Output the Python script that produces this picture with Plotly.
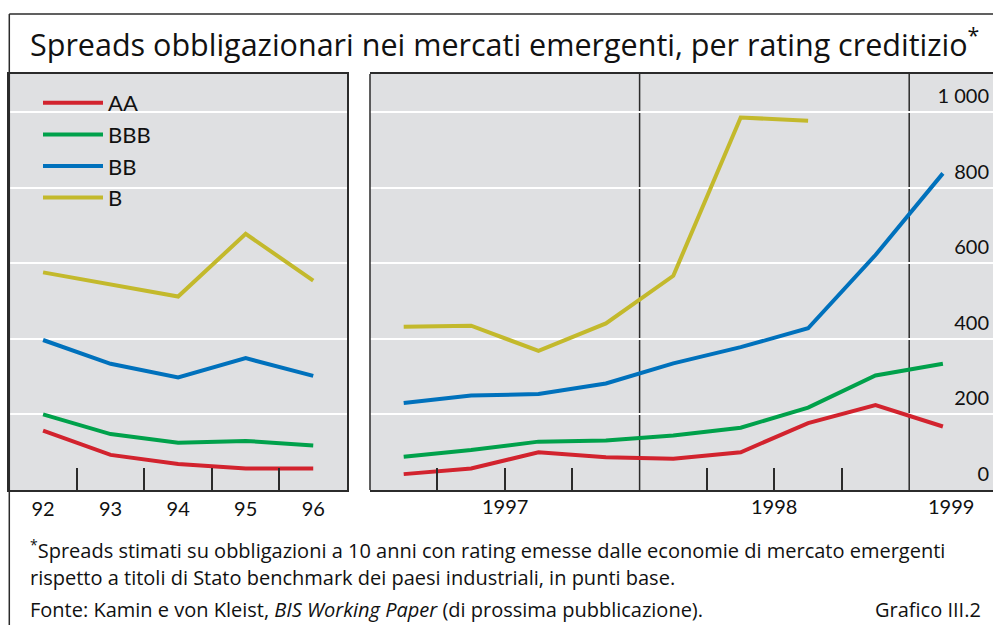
import plotly.graph_objects as go

# ---------------- data ----------------
ANNUAL_YEARS = [92, 93, 94, 95, 96]
AA_ANNUAL = [157, 93, 69, 57, 57]
BBB_ANNUAL = [200, 148, 125, 130, 118]
BB_ANNUAL = [397, 334, 298, 349, 302]
B_ANNUAL = [576, 545, 512, 678, 554]

QUARTER_YEARS = [1997, 1997, 1997, 1997, 1998, 1998, 1998, 1998, 1999]
QUARTER_NUMS = [1, 2, 3, 4, 1, 2, 3, 4, 1]
AA_Q = [42, 57, 100, 87, 83, 100, 177, 225, 168]
BBB_Q = [88, 106, 128, 131, 144, 165, 218, 303, 334]
BB_Q = [230, 250, 254, 282, 335, 378, 428, 622, 838]
B_Q = [432, 435, 368, 441, 567, 986, 977, None, None]

SERIES_NAMES = ["AA", "BBB", "BB", "B"]
COLORS = ["#d2232e", "#00a14b", "#0071bc", "#c3b92c"]

Y_TICKS = [0, 200, 400, 600, 800, 1000]
Y_TICKTEXT = ["0", "200", "400", "600", "800", "1 000"]
YEAR_LABELS = ["1997", "1998", "1999"]

TITLE = "Spreads obbligazionari nei mercati emergenti, per rating creditizio<sup>*</sup>"
NOTE1 = "<sup>*</sup>Spreads stimati su obbligazioni a 10 anni con rating emesse dalle economie di mercato emergenti"
NOTE2 = "rispetto a titoli di Stato benchmark dei paesi industriali, in punti base."
NOTE3 = "Fonte: Kamin e von Kleist, <i>BIS Working Paper</i> (di prossima pubblicazione)."
NOTE4 = "Grafico III.2"

# quarter midpoints as fractional years
quarter_x = [y + (q - 0.5) / 4 for y, q in zip(QUARTER_YEARS, QUARTER_NUMS)]

W, H = 993, 625
FONT = "Lato"
TFONT = "Open Sans"
DARK = "#2b2b2b"
BG = "#dfe0e2"


def px_x(v):
    return v / W


def px_y(v):
    return 1 - v / H


fig = go.Figure()

annual = [AA_ANNUAL, BBB_ANNUAL, BB_ANNUAL, B_ANNUAL]
quarterly = [AA_Q, BBB_Q, BB_Q, B_Q]
for name, col, a, q in zip(SERIES_NAMES, COLORS, annual, quarterly):
    fig.add_trace(go.Scatter(x=ANNUAL_YEARS, y=a, mode="lines", name=name,
                             line=dict(color=col, width=4),
                             xaxis="x", yaxis="y", showlegend=True))
    fig.add_trace(go.Scatter(x=quarter_x, y=q, mode="lines", name=name,
                             line=dict(color=col, width=4),
                             xaxis="x2", yaxis="y2", showlegend=False))

y_dom = [px_y(490), px_y(74)]
y_rng = [0, 1101]
x1_dom = [px_x(9.3), px_x(347)]
x2_dom = [px_x(370), 1.0]
x2_rng = [1997, 1997 + (993 - 370) / 269.6]

quarter_bounds = [y + k / 4 for y in (1997, 1998) for k in (1, 2, 3)]
# labels centred on each (visible part of the) year
year_label_pos = [1997.5, 1998.5, (1999 + x2_rng[1]) / 2]

tickfont = dict(family=FONT, size=20, color="#111")

fig.update_layout(
    width=W, height=H,
    margin=dict(l=0, r=0, t=0, b=0),
    paper_bgcolor="white",
    plot_bgcolor=BG,
    showlegend=True,
    legend=dict(x=px_x(38), y=px_y(82), xanchor="left", yanchor="top",
                bgcolor="rgba(0,0,0,0)", font=dict(family=FONT, size=22, color="#111"),
                itemwidth=60, tracegroupgap=0),
    xaxis=dict(domain=x1_dom, range=[91.5, 96.5], anchor="y",
               tickmode="array", tickvals=ANNUAL_YEARS,
               ticktext=[str(v) for v in ANNUAL_YEARS],
               ticks="", showgrid=False, zeroline=False,
               showline=True, linecolor=DARK, linewidth=1.5, mirror=True,
               tickfont=tickfont,
               minor=dict(tickmode="array",
                          tickvals=[v + 0.5 for v in ANNUAL_YEARS[:-1]],
                          ticks="inside", ticklen=22, tickcolor=DARK, tickwidth=1.5,
                          showgrid=False)),
    yaxis=dict(domain=y_dom, range=y_rng, anchor="x",
               tickmode="array", tickvals=Y_TICKS, showticklabels=False,
               showgrid=True, gridcolor="white", gridwidth=1.5, zeroline=False,
               showline=True, linecolor=DARK, linewidth=1.5, mirror=True, ticks=""),
    xaxis2=dict(domain=x2_dom, range=x2_rng, anchor="y2",
                tickmode="array", tickvals=quarter_bounds, showticklabels=False,
                ticks="inside", ticklen=22, tickcolor=DARK, tickwidth=1.5,
                showgrid=False, zeroline=False,
                showline=True, linecolor=DARK, linewidth=1.5, mirror=True),
    yaxis2=dict(domain=y_dom, range=y_rng, anchor="x2", side="right",
                tickmode="array", tickvals=Y_TICKS, ticktext=Y_TICKTEXT,
                ticklabelposition="inside", ticklabelshift=-16, ticklabelstandoff=1,
                showgrid=True, gridcolor="white", gridwidth=1.5, zeroline=False,
                showline=False, ticks="", tickfont=tickfont),
)

shapes = []
# right panel left border
shapes.append(dict(type="line", xref="x2 domain", yref="y2 domain", x0=0, x1=0, y0=0, y1=1,
                   line=dict(color=DARK, width=1.5)))
# year boundaries on the quarterly panel
for yb in (1998, 1999):
    shapes.append(dict(type="line", xref="x2", yref="y2 domain", x0=yb, x1=yb, y0=0, y1=1,
                       layer="below", line=dict(color=DARK, width=1.5)))
# outer frame
shapes.append(dict(type="line", xref="paper", yref="paper", x0=px_x(9.3), x1=1,
                   y0=px_y(14), y1=px_y(14), line=dict(color=DARK, width=1.5)))
shapes.append(dict(type="line", xref="paper", yref="paper", x0=px_x(9.3), x1=px_x(9.3),
                   y0=px_y(14), y1=0, line=dict(color=DARK, width=1.5)))
fig.update_layout(shapes=shapes)

ann = []
# year labels of the quarterly panel
for lab, xv in zip(YEAR_LABELS, year_label_pos):
    ann.append(dict(text=lab, xref="x2", yref="paper", x=xv, y=px_y(506),
                    xanchor="center", yanchor="middle", showarrow=False, font=tickfont))
ann.append(dict(text=TITLE, xref="paper", yref="paper", x=px_x(28), y=px_y(43),
                xanchor="left", yanchor="middle", showarrow=False,
                font=dict(family=TFONT, size=30.5, color="#111")))
notefont = dict(family=TFONT, size=20, color="#111")
for txt, yy in ((NOTE1, 549), (NOTE2, 577), (NOTE3, 609)):
    ann.append(dict(text=txt, xref="paper", yref="paper", x=px_x(28), y=px_y(yy),
                    xanchor="left", yanchor="middle", showarrow=False, font=notefont))
ann.append(dict(text=NOTE4, xref="paper", yref="paper", x=px_x(983), y=px_y(609),
                xanchor="right", yanchor="middle", showarrow=False, font=notefont))
fig.update_layout(annotations=ann)

fig.write_html("out.html", config={"displayModeBar": False},
               post_script="document.body.style.margin='0px';")
